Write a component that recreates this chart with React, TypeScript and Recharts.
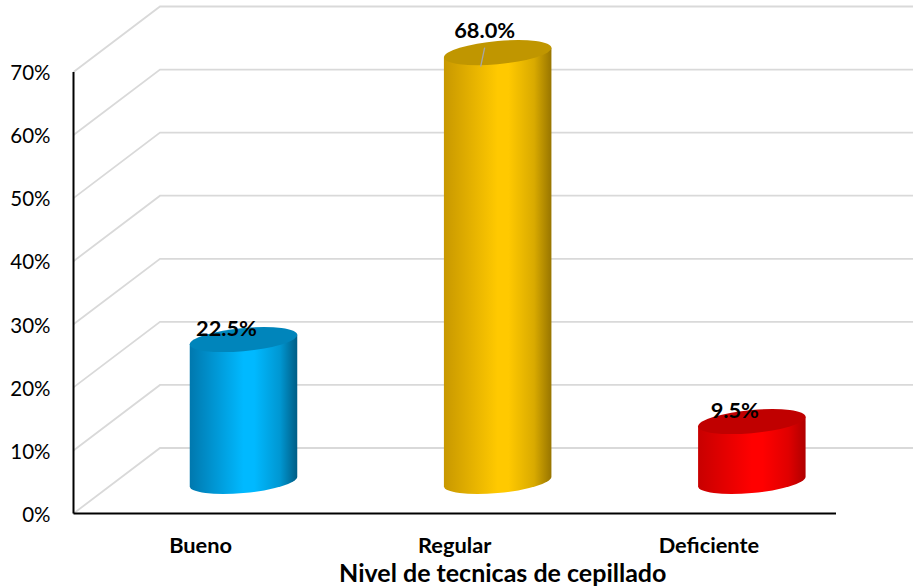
import { Bar, BarChart, CartesianGrid, LabelList, XAxis, YAxis } from 'recharts';

const categories = ['Bueno', 'Regular', 'Deficiente'];
const percentages = [22.5, 68.0, 9.5];
const percentTicks = [0, 10, 20, 30, 40, 50, 60, 70];

const chartData = categories.map((nivel, i) => ({ nivel, porcentaje: percentages[i] }));

// left edge, core, shoulder, right edge, top cap
const BAR_TONES = [
  ['#0078ae', '#00b9ff', '#0097d2', '#005d85', '#0085bb'],
  ['#c89800', '#ffc900', '#d9aa00', '#987500', '#c09600'],
  ['#c80000', '#ff0000', '#e00000', '#b00000', '#c00000'],
];

// Fake 3D wall: how far the back plane sits from the axes
const DEPTH_X = 86.5;
const DEPTH_Y = 65.5;
const BAR_LIFT = 32;
const SHEAR = -0.0884;
const CAP_RY = 11.6;
const FONT = 'Lato, Carlito, sans-serif';

function WallLine({ x1, y1 }: any) {
  const backX = x1 + DEPTH_X;
  const backY = y1 - DEPTH_Y;
  return (
    <polyline
      points={`${x1},${y1} ${backX},${backY} 913,${backY}`}
      fill="none"
      stroke="#d9d9d9"
      strokeWidth={1.8}
    />
  );
}

function Cylinder({ x, y, width, height, index }: any) {
  const left = x + DEPTH_X / 2;
  const right = left + width;
  const cx = left + width / 2;
  const top = y - BAR_LIFT;
  const base = y + height - BAR_LIFT;
  const rx = width / 2;
  return (
    <g transform={`matrix(1 ${SHEAR} 0 1 0 ${-SHEAR * cx})`}>
      <path
        d={`M${left} ${top} L${left} ${base} A${rx} ${CAP_RY} 0 0 0 ${right} ${base} L${right} ${top} Z`}
        fill={`url(#cylinder-${index})`}
      />
      <ellipse cx={cx} cy={top} rx={rx} ry={CAP_RY} fill={BAR_TONES[index][4]} />
    </g>
  );
}

function ValueLabel({ x, y, width, value, index }: any) {
  // the tall bar has its label pulled above the cap, with a leader line
  const hasLeader = index === 1;
  const cx = x + width / 2 + DEPTH_X / 2 - (hasLeader ? 13 : 17);
  const topY = y - BAR_LIFT;
  const labelY = topY - (hasLeader ? 23 : 12);
  return (
    <g>
      {hasLeader && (
        <line x1={cx} y1={labelY + 18} x2={cx - 4} y2={labelY + 37} stroke="#a6a6a6" strokeWidth={1.3} />
      )}
      <text
        x={cx}
        y={labelY}
        textAnchor="middle"
        dominantBaseline="central"
        fontFamily={FONT}
        fontWeight={700}
        fontSize={21.8}
        fill="#000"
      >
        {`${Number(value).toFixed(1)}%`}
      </text>
    </g>
  );
}

export default function App() {
  return (
    <div style={{ position: 'absolute', left: 0, top: 0, width: 913, height: 588, background: '#fff' }}>
      <BarChart
        width={913}
        height={588}
        data={chartData}
        margin={{ top: 72, right: 77, bottom: 0, left: 0 }}
        barSize={107.5}
      >
        <defs>
          {BAR_TONES.map((tone, i) => (
            <linearGradient key={i} id={`cylinder-${i}`} x1="0" y1="0" x2="1" y2="0">
              <stop offset="0%" stopColor={tone[0]} />
              <stop offset="50%" stopColor={tone[1]} />
              <stop offset="60%" stopColor={tone[1]} />
              <stop offset="84%" stopColor={tone[2]} />
              <stop offset="100%" stopColor={tone[3]} />
            </linearGradient>
          ))}
        </defs>
        <CartesianGrid vertical={false} horizontal={(props: any) => <WallLine key={props.key} {...props} />} />
        <XAxis
          dataKey="nivel"
          height={74.5}
          axisLine={{ stroke: '#000', strokeWidth: 2 }}
          tickLine={false}
          tickMargin={18}
          tick={{ fontFamily: FONT, fontWeight: 700, fontSize: 21.8, fill: '#000' }}
          label={{
            value: 'Nivel de tecnicas de cepillado',
            position: 'insideBottom',
            dx: 48,
            dy: -1,
            style: { fontFamily: FONT, fontWeight: 700, fontSize: 25, fill: '#000' },
          }}
        />
        <YAxis
          width={73.5}
          domain={[0, 70]}
          ticks={percentTicks}
          interval={0}
          tickFormatter={(v: number) => `${v}%`}
          axisLine={{ stroke: '#000', strokeWidth: 2 }}
          tickLine={false}
          tickMargin={17}
          tick={{ fontFamily: FONT, fontSize: 20.5, fill: '#000', dy: 1 }}
        />
        <Bar dataKey="porcentaje" isAnimationActive={false} shape={<Cylinder />}>
          <LabelList dataKey="porcentaje" content={<ValueLabel />} />
        </Bar>
      </BarChart>
    </div>
  );
}
